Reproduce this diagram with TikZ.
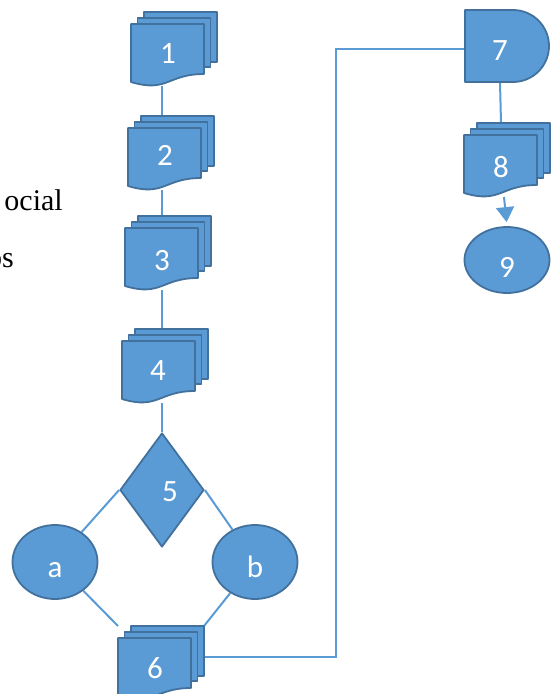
\documentclass[tikz,border=0pt]{standalone}
\usepackage{fontspec}
\newfontfamily\labelfont{Carlito}
\newfontfamily\bodyfont{Liberation Serif}
\usetikzlibrary{shapes.geometric,arrows.meta,backgrounds}
\definecolor{blu}{HTML}{5B9BD5}
\definecolor{edge}{HTML}{41719C}
\tikzset{
  x=1pt, y=-1pt,
  shp/.style={fill=blu, draw=edge, line width=1.8pt, line join=round},
  hit/.style={inner sep=0pt, outer sep=0pt, draw=none},
  conn/.style={draw=blu, line width=2pt},
  lbl/.style={anchor=base, text=white, inner sep=0pt, font=\fontsize{31}{31}\selectfont\labelfont},
  body/.style={anchor=base east, inner sep=0pt, font=\fontsize{30}{30}\selectfont\bodyfont},
  tip/.style={-{Triangle[width=18pt,length=15pt]}},
}
% stack of three pages: #1 name, #2 left edge, #3 top edge of the front page
\newcommand\mdoc[3]{%
  \begin{scope}[shift={(#2,#3)}]
    \path[shp] (13,-12) rectangle (86,38);
    \path[shp] (6.5,-6) rectangle (79.5,43);
    \path[shp] (0,0) -- (73,0) -- (73,50) .. controls (36.5,50) and (36.5,69) .. (0,58) -- cycle;
    \node[hit, minimum width=86pt, minimum height=74pt] (#1) at (43,25) {};
  \end{scope}}
\begin{document}
\begin{tikzpicture}
\useasboundingbox (0,0) rectangle (551,694);

% body text on the left
\node[body] (w1) at (63,210) {ocial};
\node[body] (w2) at (14,267) {os};

% left column
\mdoc{s1}{131}{24}
\mdoc{s2}{128}{128}
\mdoc{s3}{125}{228}
\mdoc{s4}{122}{341}
\node[shp, shape=diamond, inner sep=0pt, minimum width=84pt, minimum height=114pt] (d5) at (162,490) {};
\node[shp, ellipse, inner sep=0pt, minimum width=85pt, minimum height=74pt] (ea) at (55,562) {};
\node[shp, ellipse, inner sep=0pt, minimum width=85pt, minimum height=74pt] (eb) at (255,562) {};
\mdoc{s6}{118}{638}

% right column
\path[shp] (465,10) -- (513,10) arc[start angle=90, end angle=-90, radius=36pt] -- (465,82) -- cycle;
\node[hit, minimum width=84pt, minimum height=66pt] (s7) at (507,49) {};
\mdoc{s8}{464}{135}
\node[shp, ellipse, inner sep=0pt, minimum width=85pt, minimum height=66pt] (e9) at (507,260) {};

% labels
\node[lbl] (t1) at (168,63) {1};
\node[lbl] (t2) at (165,165) {2};
\node[lbl] (t3) at (162,270) {3};
\node[lbl] (t4) at (158,380) {4};
\node[lbl] (t5) at (170,501) {5};
\node[lbl] (ta) at (55,577) {a};
\node[lbl] (tb) at (255,577) {b};
\node[lbl] (t6) at (155,678) {6};
\node[lbl] (t7) at (500,60) {7};
\node[lbl] (t8) at (501,177) {8};
\node[lbl] (t9) at (507,277) {9};

\coordinate (bend) at (336,49);

% connectors, behind the shapes
\begin{pgfonlayer}{background}
\draw[conn] (s1.south -| d5.north) -- (s2.north -| d5.north);
\draw[conn] (s2.south -| d5.north) -- (s3.north -| d5.north);
\draw[conn] (s3.south -| d5.north) -- (s4.north -| d5.north);
\draw[conn] (s4.south -| d5.north) -- (d5.north);
\draw[conn] (d5.west) -- (ea);
\draw[conn] (d5.east) -- (eb);
\draw[conn] (ea) -- (s6.north west);
\draw[conn] (eb) -- (s6.north east);
\draw[conn] ([yshift=6pt]s6.east) -| (bend) -- (s7.west);
\draw[conn] (t7 |- s7.south) -- (t8 |- s8.north);
\end{pgfonlayer}
\draw[conn, tip, shorten >=4pt] ([xshift=3pt]t8 |- s8.south) -- (e9.north);
\end{tikzpicture}
\end{document}
